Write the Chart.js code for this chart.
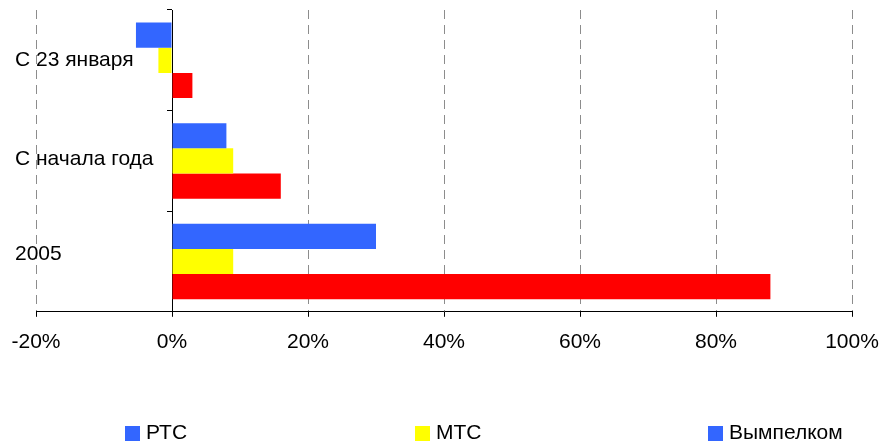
<!DOCTYPE html>
<html>
<head>
<meta charset="utf-8">
<script src="https://cdn.jsdelivr.net/npm/chart.js@4.4.1/dist/chart.umd.min.js"></script>
<style>
  html, body { margin: 0; padding: 0; background: #ffffff; }
  #wrap { width: 887px; height: 441px; position: relative; }
</style>
</head>
<body>
<div id="wrap"><canvas id="c"></canvas></div>
<script>
const categories = ['С 23 января', 'С начала года', '2005'];
const seriesNames = ['РТС', 'МТС', 'Вымпелком'];
const rtsValues = [-5.3, 8.0, 30.0];
const mtsValues = [-2.0, 9.0, 9.0];
const vimpelcomValues = [3.0, 16.0, 88.0];
const barColors = ['#3366FF', '#FFFF00', '#FF0000'];
const legendColors = ['#3366FF', '#FFFF00', '#3366FF'];
const xTickValues = [-20, 0, 20, 40, 60, 80, 100];

const FONT = "'Liberation Sans', Arial, sans-serif";

const categoryLabelPlugin = {
  id: 'categoryLabels',
  afterDraw(chart) {
    const ctx = chart.ctx;
    const y = chart.scales.y;
    ctx.save();
    ctx.font = '21px ' + FONT;
    ctx.fillStyle = '#000';
    ctx.textAlign = 'left';
    ctx.textBaseline = 'middle';
    categories.forEach((c, i) => {
      ctx.fillText(c, 15, y.getPixelForValue(i) - (i === 0 ? 0 : (i === 1 ? 2 : 7)));
    });
    ctx.restore();
  }
};

const bottomLegendPlugin = {
  id: 'bottomLegend',
  afterDraw(chart) {
    const ctx = chart.ctx;
    const xs = [125, 415, 708];
    ctx.save();
    ctx.font = '21px ' + FONT;
    ctx.textAlign = 'left';
    ctx.textBaseline = 'middle';
    seriesNames.forEach((name, i) => {
      ctx.fillStyle = legendColors[i];
      ctx.fillRect(xs[i], 426, 15, 15);
      ctx.fillStyle = '#000';
      ctx.fillText(name, xs[i] + 21, 433);
    });
    ctx.restore();
  }
};

new Chart(document.getElementById('c'), {
  type: 'bar',
  data: {
    labels: categories,
    datasets: [
      { label: seriesNames[0], data: rtsValues, backgroundColor: barColors[0] },
      { label: seriesNames[1], data: mtsValues, backgroundColor: barColors[1] },
      { label: seriesNames[2], data: vimpelcomValues, backgroundColor: barColors[2] }
    ]
  },
  options: {
    indexAxis: 'y',
    responsive: true,
    maintainAspectRatio: false,
    animation: false,
    layout: { padding: { left: 36, right: 35, top: 10, bottom: 73 } },
    datasets: { bar: { categoryPercentage: 0.75, barPercentage: 1.0, borderWidth: 0 } },
    plugins: { legend: { display: false }, tooltip: { enabled: false } },
    scales: {
      x: {
        type: 'linear',
        min: -20,
        max: 100,
        afterBuildTicks(scale) { scale.ticks = xTickValues.map(v => ({ value: v })); },
        afterFit(scale) { scale.paddingLeft = 0; scale.paddingRight = 0; },
        ticks: {
          callback: v => v + '%',
          font: { family: FONT, size: 21 },
          color: '#000',
          padding: 13,
          maxRotation: 0,
          autoSkip: false
        },
        grid: {
          color: ctx => (ctx.tick && ctx.tick.value === 0) ? 'rgba(0,0,0,0)' : '#8c8c8c',
          lineWidth: 1,
          tickColor: '#000',
          tickLength: 5,
          drawTicks: true
        },
        border: { display: true, color: '#000', width: 1, dash: [9, 6] }
      },
      y: {
        type: 'category',
        position: { x: 0 },
        ticks: { display: false },
        grid: {
          offset: true,
          drawOnChartArea: false,
          drawTicks: true,
          tickLength: 5,
          tickColor: '#000'
        },
        border: { display: true, color: '#000', width: 1 }
      }
    }
  },
  plugins: [categoryLabelPlugin, bottomLegendPlugin]
});
</script>
</body>
</html>
